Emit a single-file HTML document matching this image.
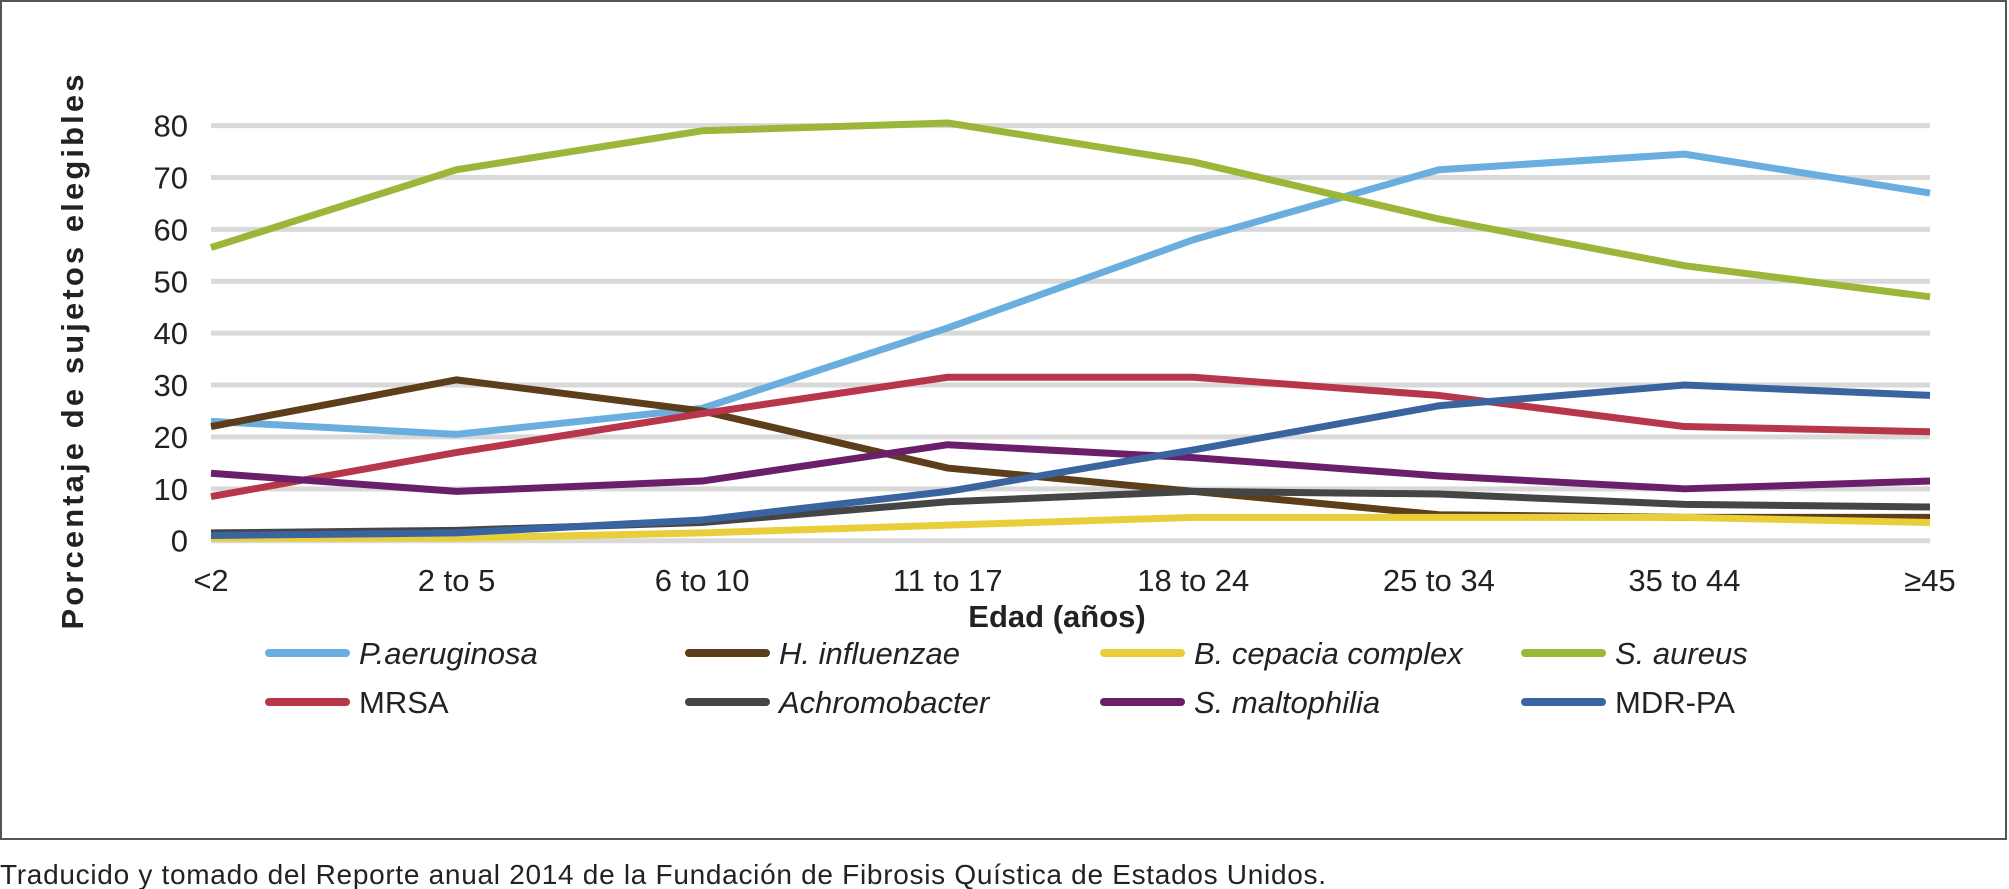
<!DOCTYPE html>
<html><head><meta charset="utf-8"><style>
body{margin:0;background:#fff;width:2009px;height:889px;overflow:hidden}
svg{display:block}
text{font-family:"Liberation Sans",sans-serif}
</style></head><body>
<svg id="c" width="2009" height="889">
<rect x="1" y="1" width="2005" height="838" fill="#fff" stroke="#555" stroke-width="2"/>
<text x="83" y="352" transform="rotate(-90 83 352)" text-anchor="middle" font-size="31" font-weight="bold" fill="#222" textLength="555">Porcentaje de sujetos elegibles</text>
<text x="1057" y="627" text-anchor="middle" font-size="31" font-weight="bold" fill="#222">Edad (años)</text>
<text x="0" y="884" font-size="28" fill="#222" textLength="1326">Traducido y tomado del Reporte anual 2014 de la Fundación de Fibrosis Quística de Estados Unidos.</text>
<g id="grid"></g><g id="series"></g><g id="legend"></g>
</svg>
<script>
const categories=["<2","2 to 5","6 to 10","11 to 17","18 to 24","25 to 34","35 to 44","≥45"];
const yTicks=[0,10,20,30,40,50,60,70,80];
const seriesNames=["P.aeruginosa","H. influenzae","B. cepacia complex","S. aureus","MRSA","Achromobacter","S. maltophilia","MDR-PA"];
const pAeruginosa=[23,20.5,25.5,41,58,71.5,74.5,67];
const hInfluenzae=[22,31,25,14,9.5,5,4.5,4.5];
const bCepacia=[0.5,0.5,1.5,3,4.5,4.5,4.5,3.5];
const sAureus=[56.5,71.5,79,80.5,73,62,53,47];
const mrsa=[8.5,17,24.5,31.5,31.5,28,22,21];
const achromobacter=[1.5,2,3.5,7.5,9.5,9,7,6.5];
const sMaltophilia=[13,9.5,11.5,18.5,16,12.5,10,11.5];
const mdrPa=[1,1.5,4,9.5,17.5,26,30,28];
const allSeries=[pAeruginosa,hInfluenzae,bCepacia,sAureus,mrsa,achromobacter,sMaltophilia,mdrPa];
const colors=["#6aaee0","#5c3e1a","#e8cf3a","#9cb63a","#b8364a","#454545","#6b1f6b","#3a64a0"];
const italic=[true,true,true,true,false,true,true,false];
const NS="http://www.w3.org/2000/svg";
const x0=211,x1=1930,yTop=125.6,yBot=540.7;
const xs=i=>x0+(x1-x0)*i/(categories.length-1);
const ys=v=>yBot-(yBot-yTop)*v/80;
function mk(t,a,p){const e=document.createElementNS(NS,t);for(const k in a)e.setAttribute(k,a[k]);p.appendChild(e);return e;}
const g=document.getElementById('grid');
yTicks.forEach(v=>{
 const l=mk('line',{x1:x0,x2:x1,y1:ys(v),y2:ys(v),stroke:'#d9d9d9','stroke-width':5},g);
 
 
 const t=mk('text',{x:188,y:ys(v)+11,'text-anchor':'end','font-size':31,fill:'#222'},g);
 t.textContent=v;
 
 
});
categories.forEach((c,i)=>{
 const t=mk('text',{x:xs(i),y:591,'text-anchor':'middle','font-size':31,fill:'#222'},g);
 t.textContent=c;
 
 
});
const s=document.getElementById('series');
allSeries.forEach((d,k)=>{
 const p=mk('polyline',{points:d.map((v,i)=>xs(i)+','+ys(v)).join(' '),fill:'none',stroke:colors[k],'stroke-width':7,'stroke-linejoin':'round'},s);
 
 
});
const lg=document.getElementById('legend');
const colX=[269,689,1104,1525],rowY=[653,702];
seriesNames.forEach((n,k)=>{
 const cx=colX[k%4],cy=rowY[Math.floor(k/4)];
 const l=mk('line',{x1:cx,x2:cx+77,y1:cy,y2:cy,stroke:colors[k],'stroke-width':8,'stroke-linecap':'round'},lg);
 
 
 const t=mk('text',{x:cx+90,y:cy+11,'font-size':31,fill:'#222','font-style':italic[k]?'italic':'normal'},lg);
 t.textContent=n;
 
 
});
</script>
</body></html>
